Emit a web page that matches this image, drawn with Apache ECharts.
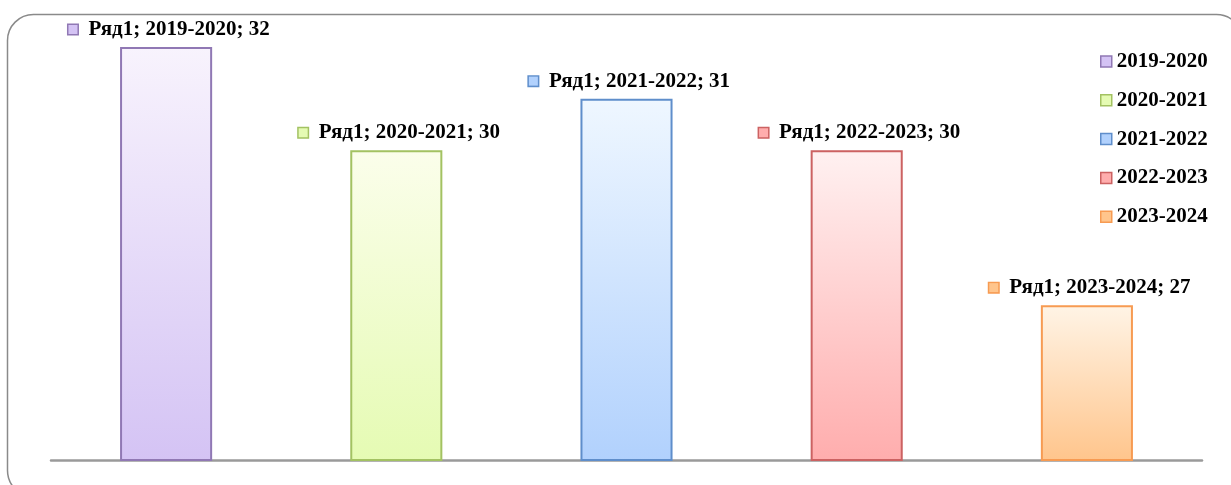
<!DOCTYPE html>
<html>
<head>
<meta charset="utf-8">
<script src="https://cdn.jsdelivr.net/npm/echarts@6/dist/echarts.min.js"></script>
<style>
    html, body {margin: 0; padding: 0; background: #fff;}
    #chart {width: 1231px; height: 485px;}
</style>
</head>
<body>
<div id="chart"></div>
<script>
    var seriesName = 'Ряд1';
    var categories = ['2019-2020', '2020-2021', '2021-2022', '2022-2023', '2023-2024'];
    var values = [32, 30, 31, 30, 27];

    // цвета: верх градиента, низ градиента, обводка
    var topColors = ['#f8f3fd', '#fbfeeb', '#eff7ff', '#fff1f1', '#fff4e6'];
    var bottomColors = ['#d4c3f4', '#e5fbb3', '#b1d1fd', '#ffadad', '#ffc58c'];
    var borderColors = ['#9078b4', '#a3c262', '#5f8ecb', '#cc6262', '#f79b52'];

    var chart = echarts.init(document.getElementById('chart'));

    var series = categories.map(function (name, i) {
        return {
            name: name,
            type: 'bar',
            barWidth: '40%',
            barGap: '-100%',
            data: values.map(function (v, j) { return j === i ? v : '-'; }),
            itemStyle: {
                color: new echarts.graphic.LinearGradient(0, 0, 0, 1, [
                    {offset: 0, color: topColors[i]},
                    {offset: 1, color: bottomColors[i]}
                ]),
                borderColor: borderColors[i],
                borderWidth: 2
            },
            label: {
                show: true,
                position: 'top',
                distance: 7,
                offset: [3, 0],
                formatter: function (p) {
                    return '{m|}{g|}{t|' + seriesName + '; ' + p.seriesName + '; ' + p.value + '}';
                },
                rich: {
                    m: {
                        width: 9, height: 9,
                        backgroundColor: bottomColors[i],
                        borderColor: borderColors[i],
                        borderWidth: 1.5
                    },
                    g: {width: 11},
                    t: {
                        fontFamily: 'Liberation Serif',
                        fontWeight: 'bold',
                        fontSize: 21,
                        color: '#000'
                    }
                }
            }
        };
    });

    var option = {
        animation: false,
        graphic: [{
            type: 'rect',
            shape: {x: 7.5, y: 14.5, width: 1235, height: 482, r: 26},
            style: {fill: 'none', stroke: '#8a8a8a', lineWidth: 1.5},
            silent: true
        }],
        legend: {
            orient: 'vertical',
            left: 1095,
            top: 46,
            icon: 'rect',
            itemWidth: 11,
            itemHeight: 11,
            itemGap: 17.8,
            data: categories.map(function (c, i) {
                return {
                    name: c,
                    itemStyle: {color: bottomColors[i], borderColor: borderColors[i], borderWidth: 1.5}
                };
            }),
            textStyle: {
                fontFamily: 'Liberation Serif',
                fontWeight: 'bold',
                fontSize: 21,
                lineHeight: 20,
                color: '#000'
            }
        },
        grid: {left: 51, right: 29, top: 47, bottom: 25, containLabel: false},
        xAxis: {
            type: 'category',
            data: categories,
            axisLine: {lineStyle: {color: '#9a9a9a', width: 2.5}},
            axisTick: {show: false},
            axisLabel: {show: false}
        },
        yAxis: {
            type: 'value',
            min: 24,
            max: 32,
            show: false,
            splitLine: {show: false}
        },
        series: series
    };

    chart.setOption(option);
</script>
</body>
</html>
